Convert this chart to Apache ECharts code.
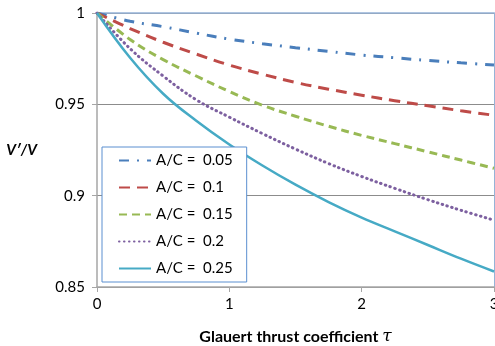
<!DOCTYPE html>
<html>
<head>
<meta charset="utf-8">
<script src="https://cdn.jsdelivr.net/npm/echarts@6/dist/echarts.min.js"></script>
<style>
  html, body { margin: 0; padding: 0; background: #fff; }
  #main { width: 495px; height: 346px; }
</style>
</head>
<body>
<div id="main"></div>
<script>
// thrust coefficient samples
var tau = [0, 0.25, 0.5, 0.75, 1, 1.25, 1.5, 1.75, 2, 2.25, 2.5, 2.75, 3];

// V'/V, one list per A/C
var ac005 = [1, 0.9955, 0.9925, 0.989, 0.9857, 0.9832, 0.981, 0.979, 0.977, 0.9755, 0.974, 0.9727, 0.9715];
var ac010 = [1, 0.9915, 0.984, 0.9775, 0.9715, 0.9665, 0.962, 0.9583, 0.955, 0.952, 0.9492, 0.9465, 0.944];
var ac015 = [1, 0.9855, 0.9745, 0.9655, 0.957, 0.9495, 0.9435, 0.938, 0.933, 0.9285, 0.924, 0.9195, 0.915];
var ac020 = [1, 0.9805, 0.9655, 0.9525, 0.943, 0.934, 0.9255, 0.9176, 0.9105, 0.904, 0.8978, 0.892, 0.8866];
var ac025 = [1, 0.9755, 0.9558, 0.941, 0.928, 0.9165, 0.906, 0.8965, 0.888, 0.8805, 0.873, 0.8655, 0.8585];

var names = ['A/C =  0.05', 'A/C =  0.1', 'A/C =  0.15', 'A/C =  0.2', 'A/C =  0.25'];
var xTicks = [0, 1, 2, 3];
var yTicks = [0.85, 0.9, 0.95, 1];

function pairs(ys) {
    var out = [];
    for (var i = 0; i < tau.length; i++) {
        out.push([tau[i], ys[i]]);
    }
    return out;
}

var chart = echarts.init(document.getElementById('main'));

var font = 'Lato, "Open Sans", sans-serif';

function mkSeries(name, ys, color, type, width, cap) {
    return {
        name: name,
        type: 'line',
        data: pairs(ys),
        smooth: 0.4,
        symbol: 'none',
        color: color,
        lineStyle: { color: color, width: width, type: type, cap: cap || 'butt' }
    };
}

var option = {
    animation: false,
    backgroundColor: '#fff',
    grid: { left: 97, right: 1, top: 13, bottom: 59, outerBoundsMode: 'none', containLabel: false },
    legend: {
        orient: 'vertical',
        left: 102,
        top: 147,
        padding: [6, 14, 6, 16],
        itemGap: 12,
        itemWidth: 32,
        itemHeight: 14,
        backgroundColor: '#fff',
        borderColor: '#5b8fd0',
        borderWidth: 1,
        borderRadius: 0,
        itemStyle: { opacity: 0 },
        textStyle: { fontFamily: font, fontSize: 15, color: '#000', lineHeight: 15 },
        data: names
    },
    xAxis: [{
        type: 'value',
        min: 0,
        max: 3,
        interval: 1,
        name: '{b|Glauert thrust coefficient }{t|τ}',
        nameLocation: 'middle',
        nameGap: 41,
        nameTextStyle: {
            rich: {
                b: { fontFamily: font, fontSize: 16, fontWeight: 'bold', color: '#000' },
                t: { fontFamily: '"DejaVu Serif", serif', fontSize: 17, fontStyle: 'italic', color: '#000' }
            }
        },
        axisLine: { lineStyle: { color: '#a6a6a6', width: 1.5 } },
        axisTick: { show: true, length: 5, lineStyle: { color: '#a6a6a6' } },
        axisLabel: {
            fontFamily: font, fontSize: 15, color: '#000', margin: 10,
            formatter: function (v) { return xTicks.indexOf(v) >= 0 ? String(v) : ''; }
        },
        splitLine: { show: false }
    }, {
        type: 'value',
        position: 'top',
        min: 0,
        max: 3,
        axisLine: { show: true, onZero: false, lineStyle: { color: '#95b3d7', width: 1.5 } },
        axisTick: { show: false },
        axisLabel: { show: false },
        splitLine: { show: false }
    }],
    yAxis: [{
        type: 'value',
        min: 0.85,
        max: 1,
        interval: 0.05,
        name: "V′/V",
        nameLocation: 'middle',
        nameRotate: 0,
        nameGap: 60,
        nameTextStyle: { fontFamily: font, fontSize: 15, fontWeight: 'bold', fontStyle: 'italic', color: '#000' },
        axisLine: { show: true, lineStyle: { color: '#a6a6a6', width: 1.5 } },
        axisTick: { show: true, length: 5, lineStyle: { color: '#a6a6a6' } },
        axisLabel: {
            fontFamily: font, fontSize: 15, color: '#000', margin: 12,
            formatter: function (v) {
                for (var i = 0; i < yTicks.length; i++) {
                    if (Math.abs(yTicks[i] - v) < 1e-6) return String(yTicks[i]);
                }
                return '';
            }
        },
        splitLine: {
            show: true,
            lineStyle: { color: '#8c8c8c', width: 1 }
        }
    }, {
        type: 'value',
        position: 'right',
        min: 0.85,
        max: 1,
        axisLine: { show: true, onZero: false, lineStyle: { color: '#95b3d7', width: 1 } },
        axisTick: { show: false },
        axisLabel: { show: false },
        splitLine: { show: false }
    }],
    series: [
        mkSeries(names[0], ac005, '#4a7ebb', [10, 8, 2, 8], 3),
        mkSeries(names[1], ac010, '#be4b48', [11, 7], 3),
        mkSeries(names[2], ac015, '#98b954', [8, 5], 3),
        mkSeries(names[3], ac020, '#7d60a0', [0.5, 4.5], 3, 'round'),
        mkSeries(names[4], ac025, '#46aac5', 'solid', 2.5)
    ]
};

chart.setOption(option);
</script>
</body>
</html>
